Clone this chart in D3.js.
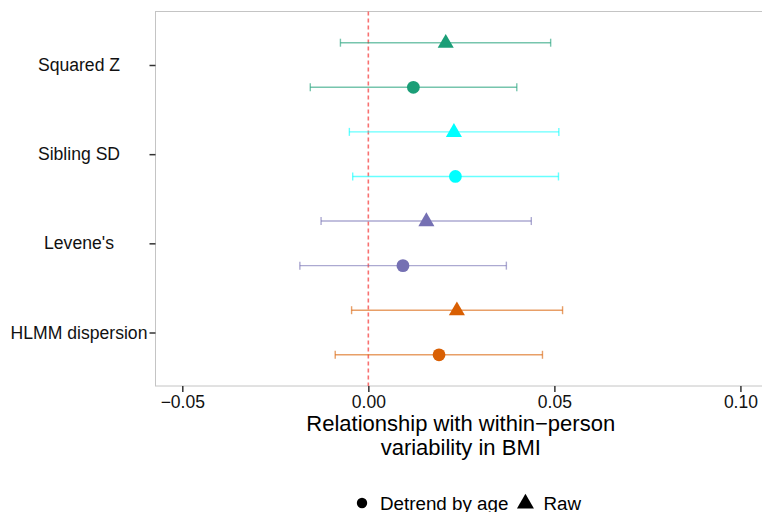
<!DOCTYPE html>
<html>
<head>
<meta charset="utf-8">
<script src="https://cdn.jsdelivr.net/npm/d3@7"></script>
<style>
  body { margin: 0; background: #fff; }
  text { font-family: "Liberation Sans", Arial, Helvetica, sans-serif; }
</style>
</head>
<body>
<svg id="chart" width="762" height="512"></svg>
<script>
// data
const methods = ["Squared Z", "Sibling SD", "Levene's", "HLMM dispersion"];
const methodColors = ["#1b9e77", "#00ffff", "#7570b3", "#d95f02"];
const rawEst = [0.0208, 0.0230, 0.0156, 0.0238];
const rawLo  = [-0.0075, -0.0051, -0.0127, -0.0045];
const rawHi  = [0.0490, 0.0512, 0.0438, 0.0522];
const detEst = [0.0121, 0.0234, 0.0093, 0.0190];
const detLo  = [-0.0156, -0.0042, -0.0184, -0.0089];
const detHi  = [0.0399, 0.0511, 0.0371, 0.0468];
const xTicks = [-0.05, 0.00, 0.05, 0.10];
const legendLabels = ["Detrend by age", "Raw"];

let margin = { top: 11.5, right: 0, bottom: 126, left: 155.5 },
	width = 762, height = 512,
	plotW = width - margin.left - margin.right,
	plotH = height - margin.top - margin.bottom;

let svg = d3.select("#chart");

let x = d3.scaleLinear()
	.domain([-0.0572, 0.1058])
	.range([margin.left, width - margin.right]);

let y = d3.scalePoint()
	.domain(methods)
	.range([margin.top, margin.top + plotH])
	.padding(0.6);

let dodge = y.step() * 0.25;

//panel
svg.append("rect")
	.attr("x", margin.left)
	.attr("y", margin.top)
	.attr("width", plotW + 2)
	.attr("height", plotH)
	.attr("fill", "#fff")
	.attr("stroke", "#c4c4c4")
	.attr("stroke-width", 1);

//zero reference line
svg.append("line")
	.attr("x1", x(0)).attr("x2", x(0))
	.attr("y1", margin.top).attr("y2", margin.top + plotH)
	.attr("stroke", "#f87171")
	.attr("stroke-width", 1.6)
	.attr("stroke-dasharray", "4,3");

//x axis
let xAxis = svg.append("g")
	.attr("transform", "translate(0," + (margin.top + plotH) + ")")
	.call(d3.axisBottom(x).tickValues(xTicks).tickSize(6).tickPadding(4)
		.tickFormat(function(d){ return d3.format(".2f")(d).replace("-", "\u2212"); }));
xAxis.select(".domain").remove();
xAxis.selectAll(".tick line").attr("stroke", "#333").attr("stroke-width", 1.5);
xAxis.selectAll(".tick text")
	.attr("fill", "#111")
	.style("font-size", "17.5px")
	.style("font-family", "'Liberation Sans', Arial, sans-serif");

//y axis
let yAxis = svg.append("g")
	.attr("transform", "translate(" + margin.left + ",0)")
	.call(d3.axisLeft(y).tickSize(6).tickFormat(""));
yAxis.select(".domain").remove();
yAxis.selectAll(".tick line").attr("stroke", "#333").attr("stroke-width", 1.5);

svg.append("g")
	.selectAll("text")
	.data(methods)
	.enter()
	.append("text")
	.text(function(d){ return d; })
	.attr("x", 79)
	.attr("y", function(d){ return y(d) + 6; })
	.style("text-anchor", "middle")
	.style("font-size", "17.6px")
	.attr("fill", "#111");

//x title
let titleX = margin.left + plotW / 2 + 2;
svg.append("text")
	.attr("x", titleX).attr("y", 431)
	.style("text-anchor", "middle")
	.style("font-size", "22px")
	.attr("fill", "#000")
	.text("Relationship with within\u2212person");
svg.append("text")
	.attr("x", titleX).attr("y", 455)
	.style("text-anchor", "middle")
	.style("font-size", "22px")
	.attr("fill", "#000")
	.text("variability in BMI");

//prepare data
let plotData = [];
for(let i = 0; i < methods.length; i++){
	plotData.push({ method: methods[i], color: methodColors[i], type: "raw",
		est: rawEst[i], lo: rawLo[i], hi: rawHi[i], off: -dodge });
	plotData.push({ method: methods[i], color: methodColors[i], type: "det",
		est: detEst[i], lo: detLo[i], hi: detHi[i], off: dodge });
}

let capH = 4;
let bars = svg.append("g")
	.selectAll("g")
	.data(plotData)
	.enter()
	.append("g")
	.attr("stroke", function(d){ return d.color; })
	.attr("stroke-opacity", 0.6)
	.attr("stroke-width", 1.4);

bars.append("line")
	.attr("x1", function(d){ return x(d.lo); })
	.attr("x2", function(d){ return x(d.hi); })
	.attr("y1", function(d){ return y(d.method) + d.off; })
	.attr("y2", function(d){ return y(d.method) + d.off; });
bars.append("line")
	.attr("x1", function(d){ return x(d.lo); })
	.attr("x2", function(d){ return x(d.lo); })
	.attr("y1", function(d){ return y(d.method) + d.off - capH; })
	.attr("y2", function(d){ return y(d.method) + d.off + capH; });
bars.append("line")
	.attr("x1", function(d){ return x(d.hi); })
	.attr("x2", function(d){ return x(d.hi); })
	.attr("y1", function(d){ return y(d.method) + d.off - capH; })
	.attr("y2", function(d){ return y(d.method) + d.off + capH; });

let circleSym = d3.symbol().type(d3.symbolCircle).size(Math.PI * 6.4 * 6.4);
let triSym = d3.symbol().type(d3.symbolTriangle).size(112);

svg.append("g")
	.selectAll("path")
	.data(plotData)
	.enter()
	.append("path")
	.attr("d", function(d){ return d.type == "raw" ? triSym() : circleSym(); })
	.attr("transform", function(d){
		return "translate(" + x(d.est) + "," + (y(d.method) + d.off + (d.type == "raw" ? 0.5 : 0)) + ")";
	})
	.attr("fill", function(d){ return d.color; });

//legend
let legend = svg.append("g").attr("transform", "translate(0,503)");
let lx = 355;
legendLabels.forEach(function(lab, i){
	let sym = i == 0 ? d3.symbol().type(d3.symbolCircle).size(Math.PI * 27)
					 : d3.symbol().type(d3.symbolTriangle).size(125);
	legend.append("path")
		.attr("d", sym())
		.attr("transform", "translate(" + (lx + 7) + "," + (i == 0 ? 0 : 0.5) + ")")
		.attr("fill", "#000");
	let t = legend.append("text")
		.attr("x", lx + 25)
		.attr("y", 6.5)
		.style("font-size", "18.8px")
		.attr("fill", "#000")
		.text(lab);
	lx = lx + 25 + t.node().getComputedTextLength() + 10;
});
</script>
</body>
</html>
